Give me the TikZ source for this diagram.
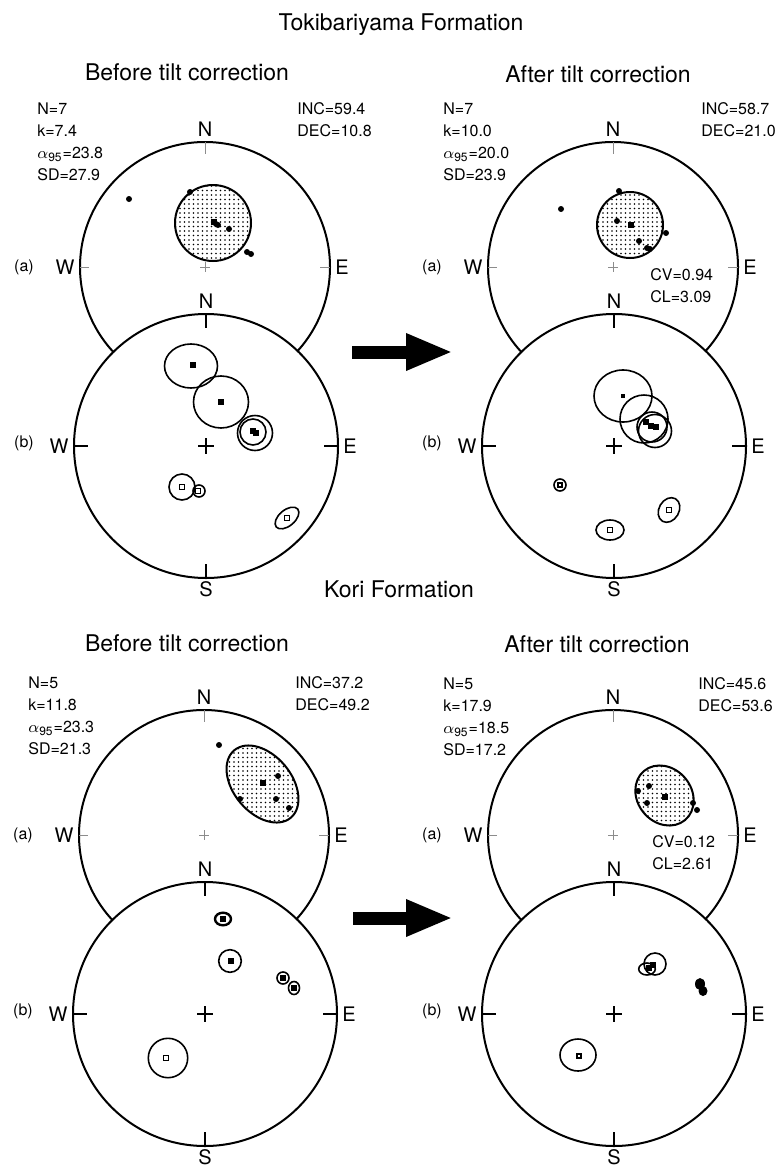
\documentclass[tikz,border=0pt]{standalone}
\usepackage{fontspec}
\setmainfont{TeX Gyre Heros}
\usetikzlibrary{arrows.meta,patterns.meta}

\begin{document}
\begin{tikzpicture}[x=0.5pt, y=-0.5pt,
    net/.style={black, line width=1pt},
    faint/.style={black!45, line width=0.35pt},
    tickmark/.style={black, line width=0.9pt},
    conf/.style={black, line width=0.8pt},
    stip/.style={pattern={Dots[distance=2.25pt, radius=0.42pt]}},
    compass/.style={font=\fontsize{10}{12}\selectfont, inner sep=2.5pt},
    stat/.style={font=\fontsize{8}{11}\selectfont, align=left, anchor=north west, inner sep=0pt},
    heading/.style={font=\fontsize{11.5}{14}\selectfont, anchor=base},
    part/.style={font=\fontsize{8}{10}\selectfont},
    opensq/.style={black, line width=0.6pt, fill=white},
    bigarrow/.style={line width=6.5pt, -{Triangle[length=23.5pt, width=17pt]}}]

  \useasboundingbox (0,0) rectangle (776,1167);

  %% ---- 標題 ----
  \node[heading] (tokiTitle)  at (401,30)  {Tokibariyama Formation};
  \node[heading] (tokiBefore) at (187,80)  {Before tilt correction};
  \node[heading] (tokiAfter)  at (598,82)  {After tilt correction};
  \node[heading] (koriTitle)  at (399,597) {Kori Formation};
  \node[heading] (koriBefore) at (187,651) {Before tilt correction};
  \node[heading] (koriAfter)  at (597,652) {After tilt correction};

  %% ---- 四組投影網的外框: (a) 在上, (b) 蓋在下面 ----
  \foreach \id/\ox/\oy in {tl/205/267, tr/613/267, bl/204/835, br/613/835} {
    \begin{scope}[shift={(\ox,\oy)}]
      %% (a) 平均方向的網
      \draw[net] (0,0) circle[radius=125];
      \draw[faint] (0,-125) -- (0,-113) (-125,0) -- (-116,0) (125,0) -- (115,0)
                   (-5,0) -- (5,0) (0,-5) -- (0,5);
      \node[compass, anchor=south] (\id-aN) at (0,-125) {N};
      \node[compass, anchor=east]  (\id-aW) at (-125,0) {W};
      \node[compass, anchor=west]  (\id-aE) at (125,0)  {E};
      \node[part] (\id-a) at (-181,0) {(a)};

      %% (b) 各站的網
      \draw[net, fill=white] (1,179) circle[radius=132];
      \draw[tickmark] (1,47) -- (1,61) (1,311) -- (1,297)
                      (-131,179) -- (-117,179) (133,179) -- (119,179)
                      (-7,179) -- (9,179) (1,171) -- (1,187);
      \node[compass, anchor=south] (\id-bN) at (1,47)    {N};
      \node[compass, anchor=north, inner sep=1.5pt] (\id-bS) at (1,311) {S};
      \node[compass, anchor=east]  (\id-bW) at (-131,179) {W};
      \node[compass, anchor=west]  (\id-bE) at (133,179)  {E};
      \node[part] (\id-b) at (-181,176) {(b)};
    \end{scope}
  }

  %% ---- 轉換箭號 ----
  \coordinate (tokiFrom) at (352,352);
  \coordinate (tokiTo)   at (453,352);
  \draw[bigarrow] (tokiFrom) -- (tokiTo);
  \coordinate (koriFrom) at (353,918);
  \coordinate (koriTo)   at (453,918);
  \draw[bigarrow] (koriFrom) -- (koriTo);

  %% ---- Tokibariyama, 轉換前 ----
  \begin{scope}[shift={(205,267)}]
    \node[stat] (tlStats) at (-168,-165) {N=7\\k=7.4\\$\alpha$\textsubscript{95}=23.8\\SD=27.9};
    \node[stat] (tlDir)   at (92,-165)   {INC=59.4\\DEC=10.8};

    \draw[net, stip] (8,-44) circle[radius=38];
    \foreach \x/\y in {-76/-68, -15/-75, 13/-42, 11/-43, 24/-38, 42/-15, 46/-13}
      \fill (\x,\y) circle[radius=3];
    \fill (6,-48) rectangle (12,-42);

    %% 各站的 95% 信賴圓
    \draw[conf] (-14,99) ellipse[x radius=26.5, y radius=22];
    \draw[conf] (16,135) ellipse[x radius=27.5, y radius=26];
    \draw[conf] (48,165) circle[radius=13];
    \draw[conf] (50,166) circle[radius=17.5];
    \draw[conf] (-23,220) circle[radius=13];
    \draw[conf] (-6,224) circle[radius=6];
    \draw[conf, rotate around={40:(82,251)}] (82,251) ellipse[x radius=14, y radius=8];
    \foreach \x/\y in {-12/98, 16/135, 48/164, 51/166}
      \fill (\x-3,\y-3) rectangle (\x+3,\y+3);
    \foreach \x/\y in {-23/220, -7/224, 82/251}
      \draw[opensq] (\x-2.5,\y-2.5) rectangle (\x+2.5,\y+2.5);
  \end{scope}

  %% ---- Tokibariyama, 轉換後 ----
  \begin{scope}[shift={(613,267)}]
    \node[stat] (trStats) at (-170,-165) {N=7\\k=10.0\\$\alpha$\textsubscript{95}=20.0\\SD=23.9};
    \node[stat] (trDir)   at (88,-165)   {INC=58.7\\DEC=21.0};
    \node[stat] (trFold)  at (37,1)      {CV=0.94\\CL=3.09};

    \draw[net, stip] (17,-42) circle[radius=33];
    \foreach \x/\y in {-52/-58, 6/-76, 4/-46, 26/-26, 34/-19, 37/-18, 53/-34}
      \fill (\x,\y) circle[radius=3];
    \fill (15,-45) rectangle (21,-39);

    \draw[conf] (10,129) ellipse[x radius=29, y radius=26];
    \draw[conf] (31,152) circle[radius=24];
    \draw[conf] (39,160) circle[radius=15];
    \draw[conf] (42,164) circle[radius=16.5];
    \draw[conf] (-53,218) circle[radius=6];
    \draw[conf, rotate around={60:(56,243)}] (56,243) ellipse[x radius=13, y radius=10];
    \draw[conf] (-3,263) ellipse[x radius=14, y radius=10];
    \fill (8,127) rectangle (12,131);
    \foreach \x/\y in {33/155, 38/159, 43/160}
      \fill (\x-3,\y-3) rectangle (\x+3,\y+3);
    \draw[opensq] (-55,216) rectangle (-51,220);
    \foreach \x/\y in {56/243, -3/263}
      \draw[opensq] (\x-2.5,\y-2.5) rectangle (\x+2.5,\y+2.5);
  \end{scope}

  %% ---- Kori, 轉換前 ----
  \begin{scope}[shift={(204,835)}]
    \node[stat] (blStats) at (-176,-159) {N=5\\k=11.8\\$\alpha$\textsubscript{95}=23.3\\SD=21.3};
    \node[stat] (blDir)   at (91,-159)   {INC=37.2\\DEC=49.2};

    \draw[net, stip, rotate around={-50:(58.5,-51)}] (58.5,-51) ellipse[x radius=44, y radius=29];
    \foreach \x/\y in {15/-90, 74/-59, 36/-36, 72/-36, 85/-27}
      \fill (\x,\y) circle[radius=3];
    \fill (56,-55) rectangle (62,-49);

    \draw[conf, line width=1.2pt] (19,84) ellipse[x radius=8, y radius=6.3];
    \draw[conf] (26,126) circle[radius=11.3];
    \draw[conf] (79,143) circle[radius=6];
    \draw[conf] (90,153) ellipse[x radius=5.5, y radius=6.5];
    \draw[conf] (-36,223) circle[radius=19.7];
    \fill (16,81) rectangle (22,87);
    \foreach \x/\y in {27/126, 79/143, 90/153}
      \fill (\x-3,\y-3) rectangle (\x+3,\y+3);
    \draw[opensq] (-40.5,220.5) rectangle (-35.5,225.5);
  \end{scope}

  %% ---- Kori, 轉換後 ----
  \begin{scope}[shift={(613,835)}]
    \node[stat] (brStats) at (-170,-158) {N=5\\k=17.9\\$\alpha$\textsubscript{95}=18.5\\SD=17.2};
    \node[stat] (brDir)   at (85,-158)   {INC=45.6\\DEC=53.6};
    \node[stat] (brFold)  at (39,0)      {CV=0.12\\CL=2.61};

    \draw[net, stip, rotate around={-50:(51.5,-39.5)}] (51.5,-39.5) ellipse[x radius=32, y radius=27];
    \foreach \x/\y in {25/-44, 36/-49, 34/-32, 80/-32, 84/-25}
      \fill (\x,\y) circle[radius=3];
    \fill (49,-41) rectangle (55,-35);

    \draw[conf] (42,129) circle[radius=11];
    \draw[conf] (34,134) ellipse[x radius=8.3, y radius=6];
    \foreach \x/\y in {40/130, 36/133}
      \fill (\x-3,\y-3) rectangle (\x+3,\y+3);
    \fill (87,149) ellipse[x radius=5, y radius=6];
    \fill (90,156) ellipse[x radius=4.5, y radius=5];
    \draw[conf] (-35,220) ellipse[x radius=18, y radius=16];
    \draw[opensq] (-36,219) rectangle (-32,223);
  \end{scope}

\end{tikzpicture}
\end{document}
